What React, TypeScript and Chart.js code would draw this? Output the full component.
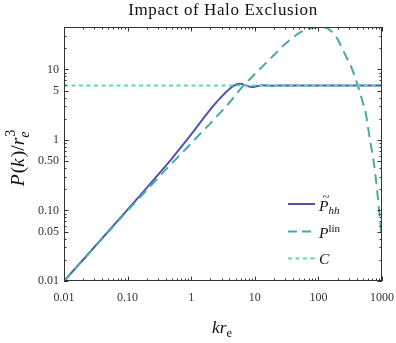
import React, { useEffect, useRef } from 'react';
import { Chart, registerables } from 'chart.js';

Chart.register(...registerables);

// ---- data ----
const kLin = [0.01, 0.02, 0.05, 0.1, 0.2, 0.3, 0.5, 0.7, 1, 1.5, 2, 3, 4, 5, 6.6, 8, 10, 15, 20, 30, 40, 50, 70, 85, 100, 115, 130, 150, 180, 200, 230, 270, 330, 420, 500, 550, 650, 750, 850, 950, 1000];
const pLin = [0.01, 0.02, 0.05, 0.1, 0.195, 0.29, 0.47, 0.64, 0.9, 1.32, 1.72, 2.55, 3.4, 4.35, 5.9, 7.0, 8.6, 12.4, 16, 23, 28.5, 33, 37.5, 39, 39.8, 40, 39.2, 36.5, 31, 27, 21, 15.5, 10.7, 5.8, 3.4, 2.5, 0.98, 0.45, 0.17, 0.06, 0.04];

const kHh = [0.01, 0.02, 0.05, 0.1, 0.2, 0.3, 0.5, 0.7, 1, 1.5, 2, 2.5, 3, 3.5, 4, 4.5, 5, 5.5, 6, 6.5, 7, 8, 9, 10, 11, 12, 13, 15, 18, 22, 30, 50, 100, 200, 500, 1000];
const pHh = [0.01, 0.02, 0.051, 0.103, 0.209, 0.32, 0.55, 0.8, 1.2, 1.95, 2.7, 3.45, 4.1, 4.75, 5.3, 5.75, 6.05, 6.22, 6.25, 6.15, 6.0, 5.75, 5.65, 5.7, 5.8, 5.9, 5.95, 5.92, 5.88, 5.9, 5.9, 5.9, 5.9, 5.9, 5.9, 5.9];

const kC = [0.01, 1000];
const pC = [5.9, 5.9];

const xTickValues = [0.01, 0.1, 1, 10, 100, 1000];
const xTickLabels = ['0.01', '0.10', '1', '10', '100', '1000'];
const yTickValues = [0.01, 0.05, 0.1, 0.5, 1, 5, 10];
const yTickLabels = ['0.01', '0.05', '0.10', '0.50', '1', '5', '10'];

const titleText = 'Impact of Halo Exclusion';

const COL_HH = '#5353ad';
const COL_LIN = '#48a9a9';
const COL_C = '#56dbb3';
const TEXT = '#333333';
const SERIF = '"Liberation Serif", "DejaVu Serif", serif';

type Part = { t: string; font: string; dy: number; stack?: boolean; dx?: number };

function drawParts(ctx: CanvasRenderingContext2D, parts: Part[], x: number, y: number, dry = false): number {
  let cx = x;
  let lastX = x;
  let lastW = 0;
  for (const p of parts) {
    ctx.font = p.font;
    const w = ctx.measureText(p.t).width;
    const dx = p.dx || 0;
    if (p.stack) {
      if (!dry) ctx.fillText(p.t, lastX + dx, y + p.dy);
      lastW = Math.max(lastW, w + dx);
      cx = lastX + lastW;
    } else {
      if (!dry) ctx.fillText(p.t, cx + dx, y + p.dy);
      lastX = cx + dx;
      lastW = w;
      cx += w + dx;
    }
  }
  return cx - x;
}

const decorPlugin = {
  id: 'decor',
  afterDraw(chart: any) {
    const ctx: CanvasRenderingContext2D = chart.ctx;
    const xs = chart.scales.x;
    const ys = chart.scales.y;
    const { left, right, top, bottom } = chart.chartArea;
    ctx.save();
    // frame
    ctx.strokeStyle = TEXT;
    ctx.lineWidth = 1;
    ctx.setLineDash([]);
    ctx.strokeRect(left + 0.5, top + 0.5, right - left - 1, bottom - top - 1);
    // ticks
    const MAJ = 4.5;
    const MIN = 2.5;
    ctx.beginPath();
    for (let e = -2; e <= 3; e++) {
      for (let m = 1; m <= 9; m++) {
        const v = m * Math.pow(10, e);
        if (v > 1000.0001) continue;
        const isMaj = xTickValues.some((t) => Math.abs(t - v) / t < 1e-6);
        const len = isMaj ? MAJ : MIN;
        const px = Math.round(xs.getPixelForValue(v)) + 0.5;
        ctx.moveTo(px, bottom);
        ctx.lineTo(px, bottom - len);
        ctx.moveTo(px, top);
        ctx.lineTo(px, top + len);
      }
    }
    for (let e = -2; e <= 1; e++) {
      for (let m = 1; m <= 9; m++) {
        const v = m * Math.pow(10, e);
        if (v > 40.0001) continue;
        const isMaj = yTickValues.some((t) => Math.abs(t - v) / t < 1e-6);
        const len = isMaj ? MAJ : MIN;
        const py = Math.round(ys.getPixelForValue(v)) + 0.5;
        ctx.moveTo(left, py);
        ctx.lineTo(left + len, py);
        ctx.moveTo(right, py);
        ctx.lineTo(right - len, py);
      }
    }
    ctx.stroke();

    // title
    ctx.fillStyle = '#111';
    ctx.font = '17px ' + SERIF;
    ctx.textBaseline = 'alphabetic';
    (ctx as any).letterSpacing = '0.6px';
    ctx.textAlign = 'center';
    ctx.fillText(titleText, (left + right) / 2, 15);
    (ctx as any).letterSpacing = '0px';
    ctx.textAlign = 'left';

    // x axis label k r_e
    ctx.fillStyle = '#111';
    const it17 = 'italic 17.5px ' + SERIF;
    const rm12 = '12.5px ' + SERIF;
    drawParts(ctx, [
      { t: 'k', font: it17, dy: 0 },
      { t: 'r', font: it17, dy: 0 },
      { t: 'e', font: rm12, dy: 4 },
    ], 212, 333);

    // y axis label P(k)/r_e^3
    const it20 = 'italic 19.5px ' + SERIF;
    const rm20 = '19.5px ' + SERIF;
    const it14 = 'italic 14px ' + SERIF;
    const rm14 = '14px ' + SERIF;
    const yParts: Part[] = [
      { t: 'P', font: it20, dy: 0 },
      { t: '(', font: rm20, dy: 0, dx: 1 },
      { t: 'k', font: it20, dy: 0 },
      { t: ')/', font: rm20, dy: 0, dx: 1 },
      { t: 'r', font: it20, dy: 0 },
      { t: 'e', font: it14, dy: 4.5 },
      { t: '3', font: rm14, dy: -9, stack: true, dx: 1 },
    ];
    const W = drawParts(ctx, yParts, 0, 0, true);
    ctx.save();
    ctx.translate(24, 158);
    ctx.rotate(-Math.PI / 2);
    drawParts(ctx, yParts, -W / 2, 0);
    ctx.restore();

    // legend
    const rows = [
      { y: 204, color: COL_HH, dash: [] as number[] },
      { y: 231.5, color: COL_LIN, dash: [9, 5] },
      { y: 258.5, color: COL_C, dash: [4, 3.5] },
    ];
    for (const r of rows) {
      ctx.beginPath();
      ctx.strokeStyle = r.color;
      ctx.lineWidth = 2;
      ctx.setLineDash(r.dash);
      ctx.moveTo(288, r.y);
      ctx.lineTo(315, r.y);
      ctx.stroke();
    }
    ctx.setLineDash([]);
    ctx.fillStyle = '#111';
    const it15 = 'italic 15.5px ' + SERIF;
    const it11 = 'italic 11px ' + SERIF;
    const rm11 = '11px ' + SERIF;
    // P~_hh
    drawParts(ctx, [
      { t: 'P', font: it15, dy: 0 },
      { t: 'hh', font: it11, dy: 3.5 },
    ], 319, 210.5);
    ctx.font = '13px ' + SERIF;
    ctx.fillText('~', 322.5, 200.5);
    // P^lin
    drawParts(ctx, [
      { t: 'P', font: it15, dy: 0 },
      { t: 'lin', font: rm11, dy: -6 },
    ], 319, 237.5);
    // C
    drawParts(ctx, [{ t: 'C', font: it15, dy: 0 }], 319, 264);
    ctx.restore();
  },
};

export default function App() {
  const ref = useRef<HTMLCanvasElement | null>(null);
  useEffect(() => {
    if (!ref.current) return;
    const chart = new Chart(ref.current, {
      type: 'line',
      data: {
        datasets: [
          {
            label: 'Phh',
            data: kHh.map((k, i) => ({ x: k, y: pHh[i] })),
            borderColor: COL_HH,
            borderWidth: 2,
            pointRadius: 0,
            fill: false,
            cubicInterpolationMode: 'monotone',
            order: 3,
          },
          {
            label: 'Plin',
            data: kLin.map((k, i) => ({ x: k, y: pLin[i] })),
            borderColor: COL_LIN,
            borderWidth: 2,
            borderDash: [10, 6],
            pointRadius: 0,
            fill: false,
            cubicInterpolationMode: 'monotone',
            order: 2,
          },
          {
            label: 'C',
            data: kC.map((k, i) => ({ x: k, y: pC[i] })),
            borderColor: COL_C,
            borderWidth: 2,
            borderDash: [4, 3.5],
            pointRadius: 0,
            fill: false,
            order: 1,
          },
        ],
      } as any,
      options: {
        animation: false,
        responsive: false,
        devicePixelRatio: 1,
        layout: { padding: { left: 0, right: 14, top: 27, bottom: 0 } },
        plugins: {
          legend: { display: false },
          tooltip: { enabled: false },
          title: { display: false },
        },
        scales: {
          x: {
            type: 'logarithmic',
            min: 0.01,
            max: 1000,
            grid: { display: false, drawTicks: false },
            border: { display: false },
            afterBuildTicks: (s: any) => {
              s.ticks = xTickValues.map((v) => ({ value: v }));
            },
            ticks: {
              callback: (_v: any, i: number) => xTickLabels[i],
              font: { family: SERIF, size: 12 },
              color: TEXT,
              padding: 10,
              maxRotation: 0,
              autoSkip: false,
            },
            afterFit: (s: any) => {
              s.height = 62;
              s.paddingLeft = 0;
              s.paddingRight = 0;
            },
          },
          y: {
            type: 'logarithmic',
            min: 0.01,
            max: 40,
            grid: { display: false, drawTicks: false },
            border: { display: false },
            afterBuildTicks: (s: any) => {
              s.ticks = yTickValues.map((v) => ({ value: v }));
            },
            ticks: {
              callback: (_v: any, i: number) => yTickLabels[i],
              font: { family: SERIF, size: 12 },
              color: TEXT,
              padding: 5,
              autoSkip: false,
            },
            afterFit: (s: any) => {
              s.width = 64;
              s.paddingTop = 0;
              s.paddingBottom = 0;
            },
          },
        },
      } as any,
      plugins: [decorPlugin],
    });
    return () => chart.destroy();
  }, []);
  return (
    <div style={{ position: 'fixed', left: 0, top: 0, width: 396, height: 343, background: '#fff' }}>
      <canvas ref={ref} width={396} height={343} style={{ display: 'block', width: 396, height: 343 }} />
    </div>
  );
}
